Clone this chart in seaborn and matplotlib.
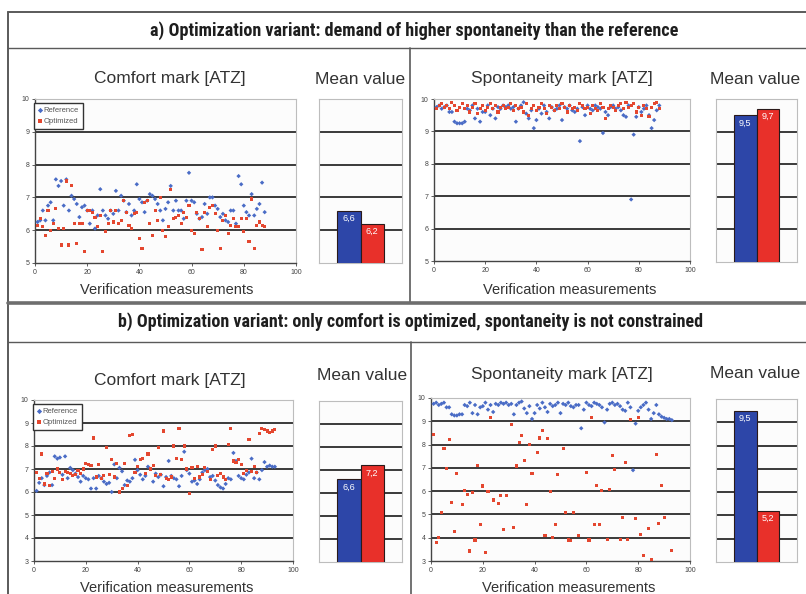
import numpy as np
import pandas as pd
import seaborn as sns
import matplotlib.pyplot as plt
from matplotlib import font_manager
from matplotlib.font_manager import FontProperties

sns.set_theme(style="white")
plt.rcParams['font.family'] = ['Liberation Sans', 'DejaVu Sans']

W, H = 806, 594

series = ['Reference', 'Optimized']

# a) comfort mark, 88 verification measurements
comfort_ref_a = [6.25, 6.3, 6.6, 6.3, 6.75, 6.85, 6.3, 7.55, 7.35, 7.5,
                 6.75, 7.55, 6.6, 7.05, 6.95, 6.8, 6.4, 6.7, 6.75, 6.6,
                 6.2, 6.6, 6.05, 6.45, 7.25, 6.6, 6.45, 6.35, 6.6, 6.5,
                 7.2, 6.6, 7.05, 6.9, 6.55, 6.8, 6.45, 6.6, 7.4, 6.95,
                 6.85, 6.55, 6.9, 7.1, 7.05, 6.95, 6.8, 6.6, 6.3, 6.65,
                 6.85, 7.35, 6.6, 6.9, 6.6, 6.6, 6.35, 6.9, 7.75, 6.9,
                 6.85, 6.5, 6.35, 6.4, 6.8, 6.5, 7.0, 7.0, 6.75, 6.65,
                 6.4, 6.5, 6.3, 6.25, 6.6, 6.6, 6.2, 7.65, 7.4, 6.75,
                 6.55, 6.45, 7.1, 6.45, 6.65, 6.8, 7.45, 6.55]
comfort_opt_a = [6.15, 6.35, 6.1, 5.85, 6.6, 6.0, 6.2, 6.65, 6.05, 5.55,
                 6.05, 7.5, 5.55, 7.35, 6.2, 5.6, 6.2, 6.2, 5.35, 6.6,
                 6.6, 6.55, 6.4, 6.1, 6.45, 5.35, 5.95, 6.2, 6.6, 6.25,
                 6.6, 6.2, 6.3, 6.9, 6.55, 6.15, 6.05, 6.5, 6.55, 5.75,
                 5.45, 6.85, 6.9, 6.2, 5.85, 6.6, 6.3, 7.0, 6.0, 5.8,
                 6.1, 7.25, 6.35, 6.4, 6.45, 6.2, 6.55, 6.4, 6.75, 6.0,
                 5.9, 6.55, 6.35, 5.4, 6.55, 6.1, 6.7, 6.75, 6.5, 6.0,
                 5.45, 6.3, 6.45, 5.9, 6.15, 6.35, 6.1, 6.1, 6.35, 5.95,
                 6.35, 5.65, 6.95, 5.45, 6.15, 6.25, 6.15, 6.1]

# a) spontaneity mark
spont_ref_a = [9.75, 9.8, 9.7, 9.75, 9.8, 9.6, 9.6, 9.3, 9.25, 9.25,
               9.25, 9.3, 9.7, 9.65, 9.8, 9.4, 9.7, 9.3, 9.6, 9.6,
               9.8, 9.5, 9.7, 9.4, 9.75, 9.7, 9.8, 9.75, 9.8, 9.7,
               9.75, 9.3, 9.7, 9.8, 9.9, 9.55, 9.4, 9.65, 9.1, 9.35,
               9.7, 9.55, 9.8, 9.6, 9.4, 9.75, 9.65, 9.7, 9.8, 9.35,
               9.75, 9.7, 9.8, 9.65, 9.6, 9.7, 8.7, 9.75, 9.5, 9.8,
               9.7, 9.65, 9.8, 9.75, 9.7, 8.95, 9.6, 9.5, 9.75, 9.8,
               9.7, 9.75, 9.65, 9.5, 9.45, 9.8, 6.9, 8.9, 9.45, 9.75,
               9.6, 9.7, 9.8, 9.5, 9.1, 9.35, 9.65, 9.8]
spont_opt_a = [9.7, 9.8, 9.85, 9.75, 9.8, 9.7, 9.9, 9.8, 9.65, 9.75,
               9.85, 9.7, 9.8, 9.6, 9.75, 9.85, 9.55, 9.7, 9.8, 9.65,
               9.75, 9.85, 9.7, 9.8, 9.6, 9.75, 9.8, 9.7, 9.75, 9.85,
               9.65, 9.8, 9.7, 9.75, 9.6, 9.85, 9.5, 9.7, 9.8, 9.65,
               9.75, 9.85, 9.7, 9.55, 9.8, 9.75, 9.65, 9.8, 9.7, 9.85,
               9.75, 9.6, 9.8, 9.7, 9.75, 9.65, 9.85, 9.8, 9.7, 9.75,
               9.55, 9.8, 9.7, 9.65, 9.85, 9.75, 9.4, 9.7, 9.8, 9.75,
               9.65, 9.8, 9.85, 9.7, 9.9, 9.75, 9.8, 9.85, 9.6, 9.75,
               9.5, 9.8, 9.7, 9.45, 9.75, 9.85, 9.9, 9.7]

# b) comfort mark, 93 verification measurements
comfort_ref_b = [6.05, 6.4, 6.6, 6.3, 6.7, 6.85, 6.3, 7.55, 7.45, 7.5,
                 6.75, 7.55, 6.6, 7.05, 6.95, 6.8, 6.65, 6.45, 6.7, 6.6,
                 6.55, 6.15, 6.6, 6.15, 6.7, 6.6, 6.45, 6.35, 6.4, 6.0,
                 7.2, 6.6, 7.05, 6.9, 6.3, 6.5, 6.45, 6.6, 7.4, 6.95,
                 6.75, 6.55, 6.7, 7.1, 7.0, 6.45, 6.8, 6.65, 6.75, 6.25,
                 6.65, 7.35, 6.7, 6.6, 6.55, 6.25, 6.7, 7.75, 6.95, 6.8,
                 6.45, 6.5, 6.35, 6.55, 6.85, 6.95, 7.0, 6.65, 6.7, 6.5,
                 6.3, 6.2, 6.15, 6.35, 6.6, 6.55, 7.7, 7.35, 6.7, 6.6,
                 6.55, 6.75, 6.85, 7.45, 6.6, 6.85, 6.55, 6.95, 7.3, 7.1,
                 7.15, 7.1, 7.1]
comfort_opt_b = [6.85, 6.6, 7.65, 6.35, 6.8, 6.3, 6.9, 6.6, 7.0, 6.85,
                 6.55, 6.9, 6.85, 6.8, 6.7, 6.75, 6.95, 6.8, 7.0, 7.25,
                 7.2, 7.15, 8.35, 6.65, 7.2, 6.6, 6.7, 7.95, 6.75, 7.4,
                 6.65, 7.25, 6.0, 6.15, 7.25, 6.3, 8.45, 8.5, 6.85, 7.1,
                 7.4, 7.45, 6.8, 7.65, 7.0, 7.15, 6.7, 7.95, 6.75, 8.65,
                 6.6, 6.55, 6.65, 8.0, 7.45, 8.75, 7.4, 8.0, 7.0, 5.95,
                 7.05, 6.6, 7.1, 6.65, 6.75, 7.05, 6.9, 6.55, 7.85, 8.0,
                 6.7, 6.8, 6.65, 6.55, 8.05, 8.75, 7.35, 7.3, 7.4, 7.2,
                 6.8, 6.95, 8.3, 6.9, 7.1, 6.85, 8.55, 8.75, 8.7, 8.65,
                 8.6, 8.65, 8.7]

# b) spontaneity mark
spont_ref_b = [9.75, 9.8, 9.7, 9.75, 9.8, 9.6, 9.6, 9.3, 9.25, 9.25,
               9.3, 9.3, 9.7, 9.65, 9.8, 9.35, 9.7, 9.3, 9.6, 9.65,
               9.8, 9.5, 9.7, 9.4, 9.75, 9.7, 9.8, 9.75, 9.8, 9.7,
               9.75, 9.3, 9.7, 9.8, 9.85, 9.55, 9.35, 9.65, 9.1, 9.35,
               9.7, 9.55, 9.8, 9.6, 9.4, 9.75, 9.65, 9.7, 9.8, 9.35,
               9.75, 9.7, 9.8, 9.65, 9.6, 9.7, 9.7, 8.7, 9.5, 9.8,
               9.7, 9.65, 9.8, 9.75, 9.7, 9.6, 8.95, 9.5, 9.75, 9.8,
               9.7, 9.75, 9.65, 9.5, 9.45, 9.8, 9.6, 6.9, 8.9, 9.45,
               9.6, 9.7, 9.8, 9.5, 9.1, 9.35, 9.7, 9.3, 9.2, 9.15,
               9.1, 9.1, 9.05]
spont_opt_b_x = [1, 2, 3, 4, 5, 6, 7, 8, 9, 10, 12, 13, 14, 15, 16, 17, 18, 19,
                 20, 21, 22, 23, 24, 26, 27, 28, 29, 31, 32, 33, 34, 35, 36, 37,
                 38, 39, 41, 42, 43, 44, 45, 46, 47, 48, 49, 51, 52, 53, 54, 55,
                 57, 60, 61, 62, 63, 64, 65, 66, 68, 69, 70, 71, 73, 74, 75, 76,
                 77, 79, 80, 81, 82, 84, 85, 87, 88, 89, 90, 93]
spont_opt_b = [8.45, 3.8, 4.0, 5.1, 7.85, 6.98, 8.23, 5.5, 4.25, 6.77, 5.43,
               6.02, 5.86, 3.43, 5.93, 3.9, 7.1, 4.57, 6.22, 3.35, 6.0, 9.18,
               5.62, 5.47, 5.83, 4.35, 5.83, 8.88, 4.43, 7.08, 8.09, 8.39, 7.3,
               5.43, 7.99, 6.77, 7.66, 8.28, 8.59, 4.11, 8.25, 5.98, 4.0, 4.58,
               6.7, 7.84, 5.07, 3.9, 3.87, 5.09, 4.11, 6.8, 3.9, 9.18, 4.57,
               6.24, 4.57, 6.02, 3.92, 6.08, 7.53, 6.94, 3.92, 4.87, 7.23,
               3.94, 9.07, 4.83, 9.18, 4.15, 3.25, 4.4, 3.07, 7.59, 4.61, 6.24,
               4.86, 3.46]

# mean values shown in the bar panels
mean_comfort_a = [6.6, 6.2]
mean_spont_a = [9.5, 9.7]
mean_comfort_b = [6.6, 7.2]
mean_spont_b = [9.5, 5.2]

pt_colors = {'Reference': '#4A6CC6', 'Optimized': '#E4472F'}
bar_colors = ['#2D46A8', '#E8302A']
grid_c = '#2b2b2b'
text_c = '#333333'


def has_font(name):
    try:
        font_manager.findfont(name, fallback_to_default=False)
        return True
    except ValueError:
        return False


def pick_title_font():
    for name in ['Liberation Sans Narrow', 'DejaVu Sans Condensed',
                 'Roboto Condensed', 'Open Sans Condensed', 'Arial Narrow']:
        if has_font(name):
            return {'family': [name, 'DejaVu Sans']}
    fp = FontProperties(family='DejaVu Sans', stretch='condensed', weight='bold')
    if 'Condensed' in font_manager.findfont(fp):
        return {'family': ['DejaVu Sans'], 'fontstretch': 'condensed'}
    return {'family': ['DejaVu Sans']}


title_font = pick_title_font()


def rect(x0, y0, x1, y1):
    return [x0 / W, 1 - y1 / H, (x1 - x0) / W, (y1 - y0) / H]


def style_box(ax):
    for s in ax.spines.values():
        s.set_color('#bdbdbd')
        s.set_linewidth(0.8)
    ax.set_facecolor('#fcfcfc')


def scatter_panel(box, ref, opt, ylim, legend, opt_x=None):
    ax = fig.add_axes(rect(*box))
    if opt_x is None:
        opt_x = list(range(1, len(opt) + 1))
    df = pd.concat([
        pd.DataFrame({'n': range(1, len(ref) + 1), 'mark': ref, 'series': 'Reference'}),
        pd.DataFrame({'n': opt_x, 'mark': opt, 'series': 'Optimized'}),
    ])
    sns.scatterplot(data=df, x='n', y='mark', hue='series', style='series',
                    hue_order=series, style_order=series,
                    markers={'Reference': 'D', 'Optimized': 's'},
                    palette=pt_colors, s=5, linewidth=0, ax=ax,
                    legend=legend, zorder=3)
    ax.set_xlim(0, 100)
    ax.set_ylim(*ylim)
    ax.set_xticks(range(0, 101, 20))
    ax.set_yticks(range(ylim[0], ylim[1] + 1))
    ax.set(xlabel='', ylabel='')
    for v in range(ylim[0] + 1, ylim[1]):
        ax.axhline(v, color=grid_c, lw=1.3, zorder=1)
    style_box(ax)
    for side in ['left', 'bottom']:
        ax.spines[side].set_color('#444444')
        ax.spines[side].set_linewidth(1.0)
    ax.tick_params(axis='both', labelsize=5, colors='#444444', length=2,
                   width=0.6, direction='out', pad=2, left=True, bottom=True)
    if legend:
        handles, labels = ax.get_legend_handles_labels()
        leg = ax.legend(handles, labels, loc='upper left',
                        bbox_to_anchor=(-0.005, 0.975), borderaxespad=0,
                        fontsize=5.5, handlelength=0.6, handletextpad=0.2,
                        labelspacing=0.5, borderpad=0.5, fancybox=False,
                        framealpha=1, edgecolor='#333333', markerscale=1.2)
        leg.get_frame().set_linewidth(1.0)
        for t in leg.get_texts():
            t.set_color('#555555')
    return ax


def bar_panel(box, means, ylim):
    ax = fig.add_axes(rect(*box))
    sns.barplot(x=series, y=means, hue=series, palette=bar_colors, width=1.0,
                saturation=1, edgecolor='#2a1a1a', linewidth=0.8, legend=False,
                ax=ax, zorder=3)
    ax.set_xlim(-1.27, 2.27)
    ax.set_ylim(*ylim)
    ax.set_xticks([])
    ax.set_yticks([])
    ax.set(xlabel='', ylabel='')
    for v in range(ylim[0] + 1, ylim[1]):
        ax.axhline(v, color=grid_c, lw=1.3, zorder=1)
    style_box(ax)
    for c, m in zip(ax.containers, means):
        ax.bar_label(c, labels=[f'{m:.1f}'.replace('.', ',')], padding=-9,
                     color='white', fontsize=6.5)
    return ax


fig = plt.figure(figsize=(W / 100, H / 100), dpi=100)
fig.patch.set_facecolor('white')

# background layer in pixel coordinates for frames and headings
bg = fig.add_axes([0, 0, 1, 1], zorder=-5)
bg.set_xlim(0, W)
bg.set_ylim(H, 0)
bg.axis('off')
frame_c = '#5a5a5a'
bg.plot([8, W], [12, 12], color=frame_c, lw=1.4)
bg.plot([8, 8], [12, H], color=frame_c, lw=1.4)
bg.plot([8, W], [48, 48], color=frame_c, lw=1.0)
bg.plot([410, 410], [48, 303], color=frame_c, lw=1.2)
bg.plot([8, W], [303, 303], color='#6e6e6e', lw=2.6)
bg.plot([8, W], [342, 342], color=frame_c, lw=1.0)
bg.plot([411, 411], [342, H], color=frame_c, lw=1.2)

title_a = bg.text(414, 31, 'a) Optimization variant: demand of higher spontaneity than the reference',
                  ha='center', va='center', fontsize=12, fontweight='bold',
                  color='#1e1e1e', **title_font)
title_b = bg.text(411, 322, 'b) Optimization variant: only comfort is optimized, spontaneity is not constrained',
                  ha='center', va='center', fontsize=12, fontweight='bold',
                  color='#1e1e1e', **title_font)

heads = [(170, 79, 'Comfort mark [ATZ]'), (360, 79, 'Mean value'),
         (562, 79, 'Spontaneity mark [ATZ]'), (755, 79, 'Mean value'),
         (170, 381, 'Comfort mark [ATZ]'), (362, 375, 'Mean value'),
         (562, 374, 'Spontaneity mark [ATZ]'), (755, 373, 'Mean value')]
for x, y, s in heads:
    bg.text(x, y, s, ha='center', va='center', fontsize=12.5, color=text_c)

for x, y in [(167, 290), (570, 290), (167, 588), (569, 588)]:
    bg.text(x, y, 'Verification measurements', ha='center', va='center',
            fontsize=10.5, color=text_c)

scatter_panel((35, 99, 296, 263), comfort_ref_a, comfort_opt_a, (5, 10), True)
bar_panel((319, 99, 402, 263), mean_comfort_a, (5, 10))
scatter_panel((434, 99, 690, 261), spont_ref_a, spont_opt_a, (5, 10), False)
bar_panel((716, 99, 797, 262), mean_spont_a, (5, 10))

scatter_panel((34, 400, 293, 561), comfort_ref_b, comfort_opt_b, (3, 10), True)
bar_panel((319, 401, 402, 562), mean_comfort_b, (3, 10))
scatter_panel((431, 398, 690, 561), spont_ref_b, spont_opt_b, (3, 10), False,
              opt_x=spont_opt_b_x)
bar_panel((716, 399, 797, 562), mean_spont_b, (3, 10))

# fit the bold section headings to the width they take in the original
fig.canvas.draw()
renderer = fig.canvas.get_renderer()
for t, target in [(title_a, 530), (title_b, 585)]:
    w = t.get_window_extent(renderer).width
    t.set_fontsize(t.get_fontsize() * target / w)

fig.savefig('out.png', dpi=100, facecolor='white')
